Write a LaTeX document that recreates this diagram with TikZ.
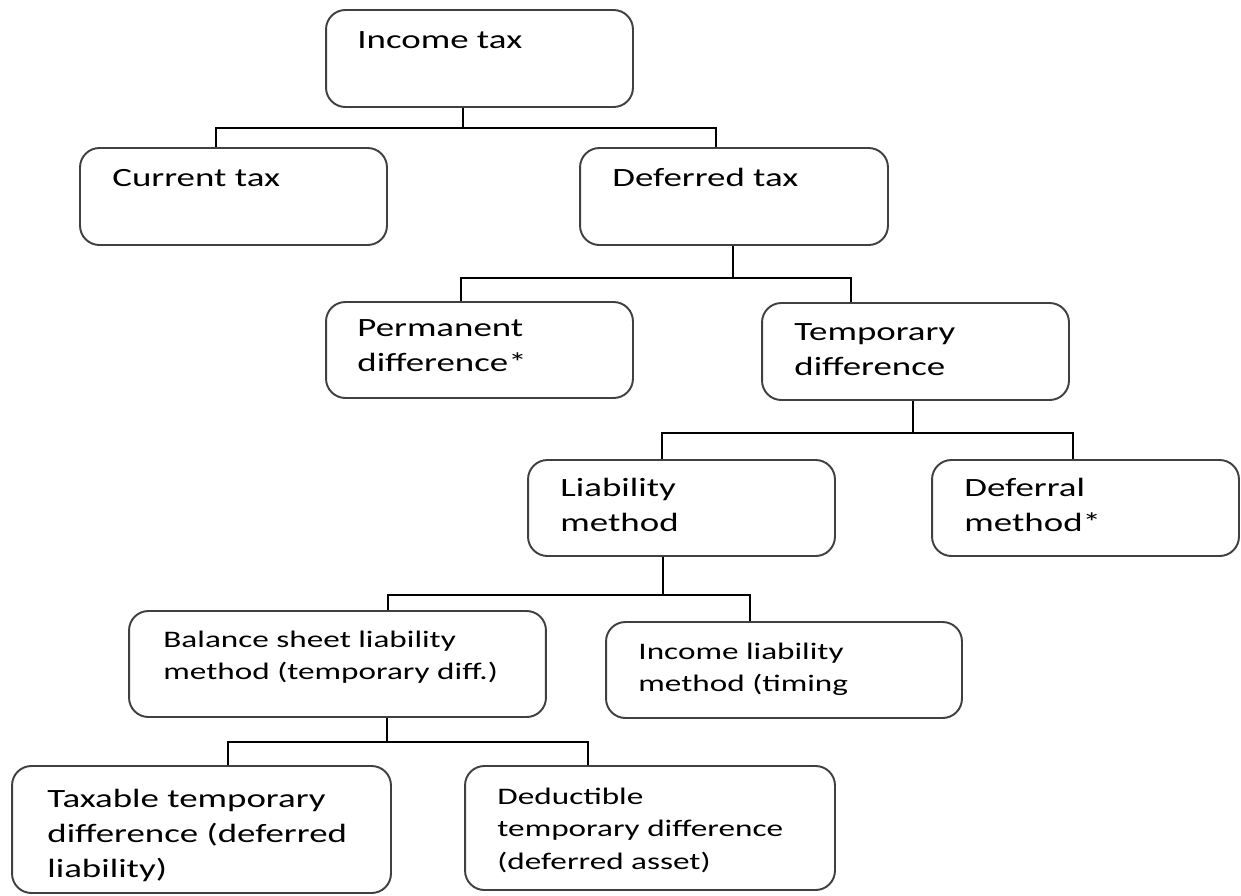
\documentclass[tikz,border=0pt]{standalone}
\usepackage{fontspec}
\setmainfont[FakeStretch=1.4]{Carlito}
\usepackage{tikz}
\usetikzlibrary{calc}

\begin{document}
\begin{tikzpicture}[x=0.02cm, y=-0.02cm,
	box/.style = {draw=black!75, line width=1.1pt, rounded corners=11pt, minimum width=6.14cm, minimum height=1.94cm},
	big/.style = {anchor=base west, inner sep=0pt, align=left, font=\fontsize{15}{20}\selectfont},
	small/.style = {anchor=base west, inner sep=0pt, align=left, font=\fontsize{13.5}{18.5}\selectfont},
	link/.style = {draw, line width=0.85pt}]
	\useasboundingbox (0,0) rectangle (1241,896);
	\node[box] (inc) at (479.5,58.5) {};
	\node[box] (cur) at (233.5,196.5) {};
	\node[box, minimum width=6.16cm] (def) at (734,196.5) {};
	\node[box, minimum height=1.92cm] (perm) at (479.5,350) {};
	\node[box] (temp) at (915.5,351.5) {};
	\node[box, minimum height=1.92cm] (liab) at (681.5,508) {};
	\node[box, minimum height=1.92cm] (defm) at (1085.5,508) {};
	\node[box, minimum width=8.34cm, minimum height=2.12cm] (bsl) at (337.5,664) {};
	\node[box, minimum width=7.12cm, minimum height=1.92cm] (ilm) at (784,670) {};
	\node[box, minimum width=7.58cm, minimum height=2.54cm] (tax) at (201.5,829.5) {};
	\node[box, minimum width=7.40cm, minimum height=2.48cm] (ded) at (650,828) {};
	\node[big] (incT) at ($(inc.north west)+(32,39)$) {Income tax};
	\node[big] (curT) at ($(cur.north west)+(33,39)$) {Current tax};
	\node[big] (defT) at ($(def.north west)+(33,39)$) {Deferred tax};
	\node[big] (permT) at ($(perm.north west)+(32,70.8)$) {Permanent\\difference*};
	\node[big] (tempT) at ($(temp.north west)+(33,73.3)$) {Temporary\\difference};
	\node[big] (liabT) at ($(liab.north west)+(33,72.3)$) {Liability\\method};
	\node[big] (defmT) at ($(defm.north west)+(33,72.3)$) {Deferral\\method*};
	\node[small] (bslT) at ($(bsl.north west)+(35,69.6)$) {Balance sheet liability\\method (temporary diff.)};
	\node[small] (ilmT) at ($(ilm.north west)+(33,70.6)$) {Income liability\\method (timing};
	\node[big] (taxT) at ($(tax.north west)+(36,112.6)$) {Taxable temporary\\difference (deferred\\liability)};
	\node[small] (dedT) at ($(ded.north west)+(33,104.2)$) {Deductible\\temporary difference\\(deferred asset)};
	\coordinate (bar1) at ($(inc.south)+(-16.5,20)$);
	\draw[link] ($(inc.south)+(-16.5,0)$) -- (bar1);
	\draw[link] ($(cur.north)+(-17.5,0)$) |- (bar1) -| ($(def.north)+(-18,0)$);
	\coordinate (bar2) at ($(def.south)+(-1,32)$);
	\draw[link] ($(def.south)+(-1,0)$) -- (bar2);
	\draw[link] ($(perm.north)+(-18.5,0)$) |- (bar2) -| ($(temp.north)+(-64.5,0)$);
	\coordinate (bar3) at ($(temp.south)+(-2.5,32)$);
	\draw[link] ($(temp.south)+(-2.5,0)$) -- (bar3);
	\draw[link] ($(liab.north)+(-19.5,0)$) |- (bar3) -| ($(defm.north)+(-12.5,0)$);
	\coordinate (bar4) at ($(liab.south)+(-18.5,38)$);
	\draw[link] ($(liab.south)+(-18.5,0)$) -- (bar4);
	\draw[link] ($(bsl.north)+(50.5,0)$) |- (bar4) -| ($(ilm.north)+(-34,0)$);
	\coordinate (bar5) at ($(bsl.south)+(49.5,24)$);
	\draw[link] ($(bsl.south)+(49.5,0)$) -- (bar5);
	\draw[link] ($(tax.north)+(26.5,0)$) |- (bar5) -| ($(ded.north)+(-62,0)$);
\end{tikzpicture}
\end{document}
